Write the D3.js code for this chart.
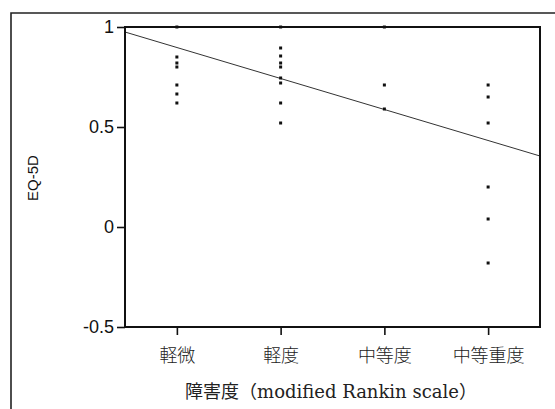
<!DOCTYPE html>
<html><head><meta charset="utf-8">
<script src="https://cdn.jsdelivr.net/npm/d3@7"></script>
<style>body{margin:0;background:#fff}</style>
</head><body>
<svg id="c" width="555" height="409"></svg>
<script>
const categories = ["軽微", "軽度", "中等度", "中等重度"];
const yTicks = [-0.5, 0, 0.5, 1];
const yTickLabels = ["-0.5", "0", "0.5", "1"];
const catIndex = [1,1,1,1,1,1,1, 2,2,2,2,2,2,2,2,2, 3,3,3, 4,4,4,4,4,4];
const eqValues = [1.0,0.85,0.82,0.80,0.71,0.665,0.62, 1.0,0.895,0.855,0.82,0.80,0.745,0.72,0.62,0.52, 1.0,0.71,0.59, 0.71,0.65,0.52,0.20,0.04,-0.18];
const fitX = [0.5, 4.5];
const fitY = [0.975, 0.355];
const yTitle = "EQ-5D";
const xTitle = "障害度（modified Rankin scale）";

const svg = d3.select("#c");
const L = 125, R = 540, T = 27, B = 327;
const x = d3.scaleLinear().domain([0.5, 4.5]).range([L, R]);
const y = d3.scaleLinear().domain([-0.5, 1]).range([B, T]);

// outer frame (partially cropped)
svg.append("path").attr("d", `M11,409 V13 H555`).attr("fill","none").attr("stroke","#222").attr("stroke-width",1.6);

// regression line
svg.append("line")
  .attr("x1", x(fitX[0])).attr("y1", y(fitY[0]))
  .attr("x2", x(fitX[1])).attr("y2", y(fitY[1]))
  .attr("stroke","#333").attr("stroke-width",1);

// points
svg.append("g").selectAll("rect").data(eqValues).join("rect")
  .attr("x",(d,i)=>x(catIndex[i])-1.5).attr("y",d=>y(d)-1.5)
  .attr("width",3).attr("height",3).attr("fill","#111");

// plot box
svg.append("rect").attr("x",L).attr("y",T).attr("width",R-L).attr("height",B-T)
  .attr("fill","none").attr("stroke","#111").attr("stroke-width",2);

// y axis
const yAxis = d3.axisLeft(y).tickValues(yTicks).tickFormat((d,i)=>yTickLabels[i]).tickSize(8).tickPadding(3);
const gy = svg.append("g").attr("transform",`translate(${L},0)`).call(yAxis);
gy.select(".domain").remove();
gy.selectAll("line").attr("stroke","#111").attr("stroke-width",1.6);
gy.selectAll("text").attr("font-family","Liberation Sans, Arial, sans-serif").attr("font-size",18).attr("fill","#111");

// x axis
const xAxis = d3.axisBottom(x).tickValues([1,2,3,4]).tickFormat((d)=>categories[d-1]).tickSize(8).tickPadding(14);
const gx = svg.append("g").attr("transform",`translate(0,${B})`).call(xAxis);
gx.select(".domain").remove();
gx.selectAll("line").attr("stroke","#111").attr("stroke-width",1.6);
gx.selectAll("text").attr("font-family","Noto Sans CJK JP, sans-serif").attr("font-size",18).attr("font-weight",300).attr("fill","#222");

// titles
svg.append("text").attr("transform",`translate(38,178) rotate(-90)`).attr("text-anchor","middle")
  .attr("font-family","Liberation Sans, Arial, sans-serif").attr("font-size",15).attr("fill","#111").text(yTitle);
svg.append("text").attr("x",331).attr("y",398).attr("text-anchor","middle")
  .attr("font-family","DejaVu Serif, Noto Sans CJK JP, serif").attr("font-size",18).attr("fill","#222").text(xTitle);
</script>
</body></html>
